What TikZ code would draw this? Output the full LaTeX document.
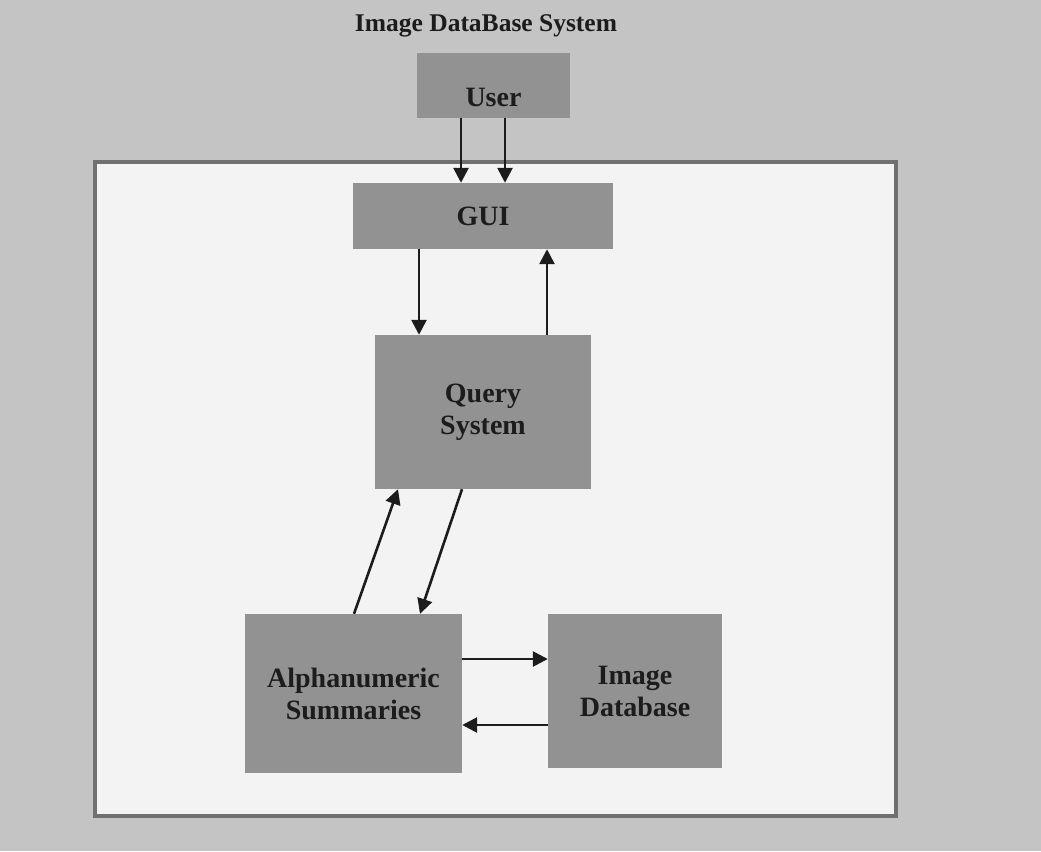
\documentclass[tikz,border=0pt]{standalone}
\usepackage{fontspec}
\setmainfont{Liberation Serif}
\usetikzlibrary{arrows.meta,calc}
\definecolor{bgray}{RGB}{196,196,196}
\definecolor{boxgray}{RGB}{146,146,146}
\definecolor{innerw}{RGB}{243,243,243}
\definecolor{frame}{RGB}{112,112,112}
\definecolor{ink}{RGB}{28,28,28}
\tikzset{
  box/.style={fill=boxgray, draw=none, inner sep=0pt, align=center, text=ink,
    font=\bfseries\fontsize{28}{32}\selectfont},
  arr/.style={draw=ink, line width=2.6pt, -{Triangle[length=15pt,width=15pt]}},
}
\begin{document}
\begin{tikzpicture}[x=1pt,y=-1pt]
\fill[bgray] (0,0) rectangle (1041,851);
\useasboundingbox (0,0) rectangle (1041,851);
\node[text=ink, font=\bfseries\fontsize{25.5}{30}\selectfont] (title) at (486,26) {Image DataBase System};
\draw[fill=innerw, draw=frame, line width=4pt] (94.5,162) rectangle (895.5,815.5);
\node[box, minimum width=153pt, minimum height=65pt] (user) at (493.5,85.5) {\raisebox{-20.5pt}[0pt][0pt]{User}};
\node[box, minimum width=260pt, minimum height=66pt] (gui) at (483,216) {GUI};
\node[box, minimum width=216pt, minimum height=154pt] (query) at (483,412) {Query\\System};
\node[box, minimum width=217pt, minimum height=159pt] (alpha) at (353.5,693.5) {Alphanumeric\\Summaries};
\node[box, minimum width=174pt, minimum height=154pt] (imgdb) at (635,691) {Image\\Database};
% User -> GUI
\draw[arr] (user.south -| 461,0) -- (gui.north -| 461,0);
\draw[arr] (user.south -| 505,0) -- (gui.north -| 505,0);
% GUI <-> Query
\draw[arr] (gui.south -| 419,0) -- (query.north -| 419,0);
\draw[arr] (query.north -| 547,0) -- (gui.south -| 547,0);
% Query <-> Alpha
\draw[arr] (alpha.north -| 354,0) -- (query.south -| 398,0);
\draw[arr] (query.south -| 462,0) -- (alpha.north -| 420,0);
% Alpha <-> ImageDB
\draw[arr] (alpha.east |- 0,659) -- (imgdb.west |- 0,659);
\draw[arr] (imgdb.west |- 0,725) -- (alpha.east |- 0,725);
\end{tikzpicture}
\end{document}
